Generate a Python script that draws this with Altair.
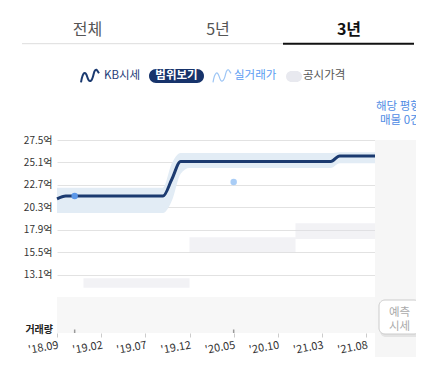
import json
import altair as alt
import pandas as pd

FONT = "Noto Sans CJK KR"

# ---------------- data ----------------
months = [
    "2018-09", "2018-10", "2018-11", "2018-12", "2019-01", "2019-02", "2019-03",
    "2019-04", "2019-05", "2019-06", "2019-07", "2019-08", "2019-09", "2019-10",
    "2019-11", "2019-12", "2020-01", "2020-02", "2020-03", "2020-04", "2020-05",
    "2020-06", "2020-07", "2020-08", "2020-09", "2020-10", "2020-11", "2020-12",
    "2021-01", "2021-02", "2021-03", "2021-04", "2021-05", "2021-06", "2021-07",
    "2021-08", "2021-09",
]
kb_price = [
    21.2, 21.5, 21.5, 21.5, 21.5, 21.5, 21.5, 21.5, 21.5, 21.5, 21.5, 21.5, 21.5,
    23.3, 25.2, 25.2, 25.2, 25.2, 25.2, 25.2, 25.2, 25.2, 25.2, 25.2, 25.2, 25.2,
    25.2, 25.2, 25.2, 25.2, 25.2, 25.2, 25.8, 25.8, 25.8, 25.8, 25.8,
]
band_upper = [
    22.4, 22.4, 22.4, 22.4, 22.4, 22.4, 22.4, 22.4, 22.4, 22.4, 22.4, 22.4, 22.4,
    25.0, 26.1, 26.1, 26.1, 26.1, 26.1, 26.1, 26.1, 26.1, 26.1, 26.1, 26.1, 26.1,
    26.1, 26.1, 26.1, 26.1, 26.1, 26.1, 26.2, 26.2, 26.2, 26.2, 26.2,
]
band_lower = [
    19.7, 19.7, 19.7, 19.7, 19.7, 19.7, 19.7, 19.7, 19.7, 19.7, 19.7, 19.7, 19.7,
    21.0, 23.9, 24.5, 24.5, 24.5, 24.5, 24.5, 24.5, 24.5, 24.5, 24.5, 24.5, 24.5,
    24.5, 24.5, 24.5, 24.5, 24.5, 24.5, 25.0, 25.0, 25.0, 25.0, 25.0,
]
trade_months = ["2018-11", "2020-05"]
trade_prices = [21.5, 23.0]
trade_colors = ["#5b97e8", "#a9cdf6"]

volume_months = ["2018-11", "2020-05"]
volume_counts = [1, 1]

public_start = ["2018-12", "2019-12", "2020-12"]
public_end = ["2019-12", "2020-12", "2021-09"]
public_low = [11.7, 15.5, 16.9]
public_high = [12.7, 17.1, 18.6]

x_tick_labels = ["'18.09", "'19.02", "'19.07", "'19.12", "'20.05", "'20.10", "'21.03", "'21.08"]
y_ticks = [10.7, 13.1, 15.5, 17.9, 20.3, 22.7, 25.1, 27.5]

tabs = ["전체", "5년", "3년"]
legend_labels = ["KB시세", "범위보기", "실거래가", "공시가격"]

# ---------------- tables ----------------
idx = {m: i for i, m in enumerate(months)}
kb_df = pd.DataFrame({"m": list(range(len(months))), "v": kb_price, "hi": band_upper, "lo": band_lower})
trade_df = pd.DataFrame({"m": [idx[m] for m in trade_months], "v": trade_prices, "c": trade_colors})
vol_df = pd.DataFrame({"m": [idx[m] for m in volume_months], "n": volume_counts, "base": [0] * len(volume_counts)})
pub_df = pd.DataFrame({"s": [idx[m] for m in public_start], "e": [idx[m] for m in public_end],
                       "lo": public_low, "hi": public_high})

W, H = 318, 193

x_scale = alt.Scale(domain=[0, len(months) - 1], nice=False, zero=False)
x_axis = alt.Axis(
    values=list(range(0, 36, 5)),
    labelExpr=json.dumps(x_tick_labels) + "[round(datum.value / 5)]",
    labelAngle=350, labelAlign="right", labelBaseline="top",
    labelFontSize=11, labelColor="#333", labelFont=FONT, labelPadding=2,
    labelFlush=False, labelOverlap=False,
    tickColor="#cccccc", tickSize=4, domain=False, grid=False, title=None,
)
y_scale = alt.Scale(domain=[6.85, 27.5], nice=False, zero=False)
y_axis = alt.Axis(
    values=y_ticks,
    labelExpr="datum.value < 11 ? '' : format(datum.value, '.1f') + '억'",
    labelFontSize=10, labelColor="#333", labelFont=FONT, labelPadding=5,
    ticks=False, domain=False, gridColor="#e2e2e2", title=None,
)


def X(f):
    return alt.X(f"{f}:Q", scale=x_scale, axis=x_axis)


def Y(f):
    return alt.Y(f"{f}:Q", scale=y_scale, axis=y_axis)


band = alt.Chart(kb_df).mark_area(color="#e2ecf5", interpolate="monotone").encode(
    x=X("m"), y=Y("lo"), y2=alt.Y2("hi"))
pub = alt.Chart(pub_df).mark_rect(color="#dedfe5", opacity=0.4).encode(
    x=X("s"), x2=alt.X2("e"), y=Y("lo"), y2=alt.Y2("hi"))
line = alt.Chart(kb_df).mark_line(color="#1b3a70", strokeWidth=3, interpolate="monotone").encode(
    x=X("m"), y=Y("v"))
pts = alt.Chart(trade_df).mark_circle(size=42, opacity=1).encode(
    x=X("m"), y=Y("v"), color=alt.Color("c:N", scale=None))
price = alt.layer(band, pub, line, pts)

vol = alt.Chart(vol_df).mark_rule(color="#9a9a9a", strokeWidth=1.5).encode(
    x=X("m"),
    y=alt.Y("n:Q", scale=alt.Scale(domain=[0, 55], nice=False, zero=True), axis=None),
    y2=alt.Y2("base"))
data_layers = alt.layer(price, vol).resolve_scale(y="independent")

ONE = pd.DataFrame({"k": [0]})


def txt(s, x, y, size=12, color="#333", weight="normal", align="left"):
    return alt.Chart(ONE).mark_text(text=s, fontSize=size, color=color, fontWeight=weight,
                                    align=align, baseline="middle", font=FONT).encode(
        x=alt.value(x), y=alt.value(y))


def box(x1, y1, x2, y2, fill, radius=0, stroke=None, opacity=1.0):
    kw = dict(fill=fill, cornerRadius=radius, opacity=opacity)
    if stroke:
        kw.update(stroke=stroke, strokeWidth=1)
    return alt.Chart(ONE).mark_rect(**kw).encode(
        x=alt.value(x1), x2=alt.value(x2), y=alt.value(y1), y2=alt.value(y2))


def hline(x1, x2, y, color, width):
    return alt.Chart(ONE).mark_rule(color=color, strokeWidth=width).encode(
        x=alt.value(x1), x2=alt.value(x2), y=alt.value(y))


WAVE = "M -1 0.7 C -0.8 -0.5 -0.5 -0.6 -0.3 0.1 C -0.1 0.8 0.2 0.7 0.4 -0.2 C 0.5 -0.7 0.7 -0.8 0.8 -0.6 L 1 -0.3"


def icon(x, y, color, width):
    return alt.Chart(ONE).mark_point(shape=WAVE, filled=False, stroke=color, strokeWidth=width,
                                     size=324, opacity=1).encode(x=alt.value(x), y=alt.value(y))


background = [
    box(318, 0, 367, 230, "#f6f6f6"),
    box(0, 157, W, H, "#f7f7f7"),
]
decor = [
    txt(tabs[0], 30.5, -110.5, 16, "#555", align="center"),
    txt(tabs[1], 161, -110.5, 16, "#555", align="center"),
    txt(tabs[2], 292, -110.5, 16, "#111", "bold", align="center"),
    hline(-35, 226, -96.3, "#dddddd", 1),
    hline(226, 357, -96.3, "#111111", 2),
    icon(33, -64, "#1b3a70", 2),
    txt(legend_labels[0], 47, -64, 11.5, "#1e3c78"),
    box(92, -71, 147, -57, "#17336b", radius=7),
    txt(legend_labels[1], 119.5, -64, 11.5, "#ffffff", "bold", align="center"),
    icon(165, -64, "#9cc5f5", 1.2),
    txt(legend_labels[2], 177, -64, 11.5, "#5a9cf2"),
    box(229, -69, 245, -58, "#e8e9ef", radius=5.5),
    txt(legend_labels[3], 246, -64, 11.5, "#555"),
    txt("해당 평형", 319, -33.5, 11.5, "#4e8be4"),
    txt("매물 0건", 323, -19, 11.5, "#4e8be4"),
    txt("거래량", -4, 190, 10, "#222", "bold", align="right"),
    box(323, 162, 364, 197, "#d0d0d0", radius=6, opacity=0.5),
    box(322, 160, 363, 194, "#ffffff", radius=6, stroke="#cccccc"),
    txt("예측", 342.5, 172.5, 11.5, "#aaaaaa", align="center"),
    txt("시세", 342.5, 186.5, 11.5, "#aaaaaa", align="center"),
]

chart = alt.layer(*background, data_layers, *decor).properties(
    width=W, height=H,
    autosize=alt.AutoSizeParams(type="none"),
    padding={"left": 49, "top": 132, "right": 41, "bottom": 24},
    background="white",
).configure_view(stroke=None)

chart.save("out.html", embed_options={"renderer": "svg", "actions": False})
